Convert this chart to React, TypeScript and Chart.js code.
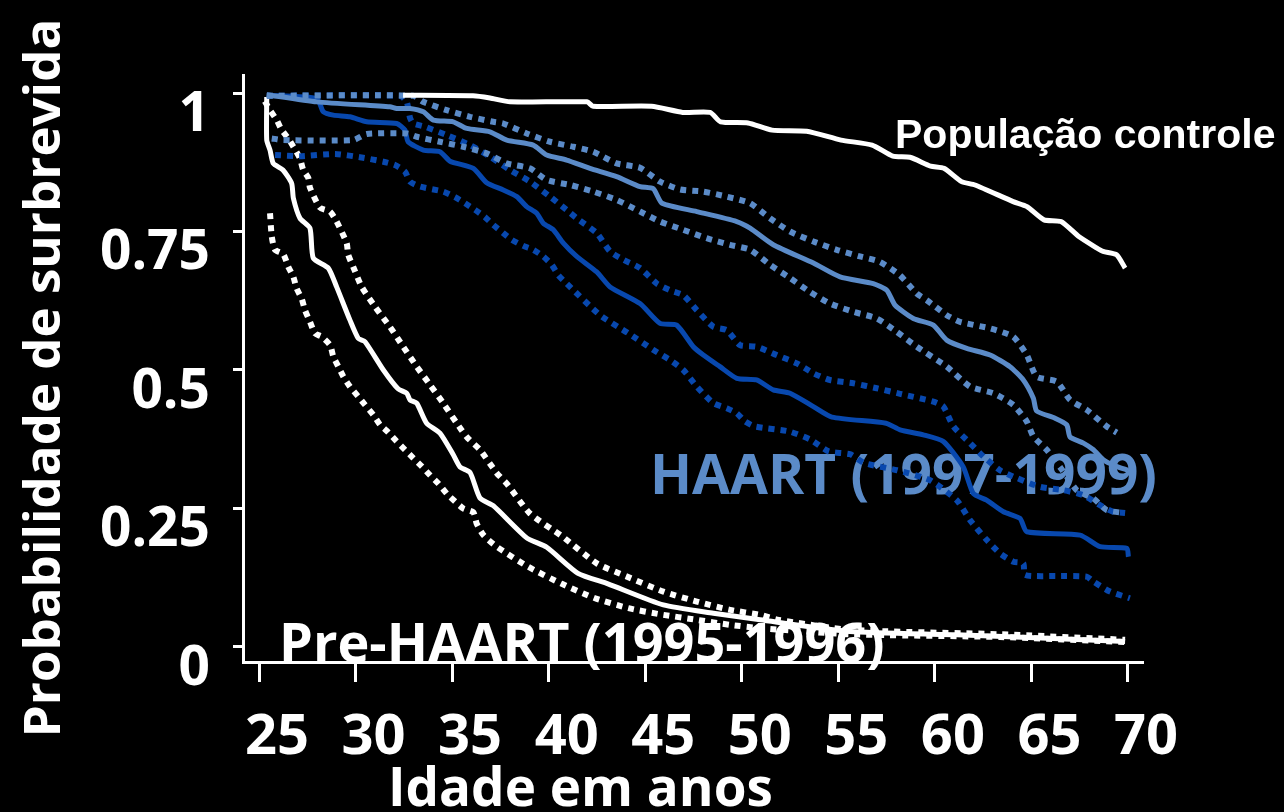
import React, { useEffect, useRef } from 'react';
import { Chart, registerables } from 'chart.js';

Chart.register(...registerables);

// ---- axis ticks ----
const xTickValues = [25, 30, 35, 40, 45, 50, 55, 60, 65, 70];
const yTickValues = [0, 0.25, 0.5, 0.75, 1];

// ---- text ----
const xAxisTitle = 'Idade em anos';
const yAxisTitle = 'Probabilidade de surbrevida';
const labelControl = 'População controle';
const labelHaart = 'HAART (1997-1999)';
const labelPreHaart = 'Pre-HAART (1995-1996)';

// ---- População controle ----
const controlAge = [32.46, 36.08, 36.96, 38.0, 41.99, 42.3, 45.33, 46.94, 48.36, 48.9, 50.32, 51.57, 53.36, 55.14, 56.75, 57.82, 58.71, 59.78, 60.47, 61.38, 62.08, 64.05, 64.77, 65.65, 66.53, 67.45, 68.35, 68.71, 69.41, 69.85];
const controlSurv = [0.996, 0.995, 0.991, 0.984, 0.984, 0.976, 0.976, 0.965, 0.965, 0.948, 0.946, 0.933, 0.931, 0.915, 0.906, 0.886, 0.884, 0.868, 0.864, 0.84, 0.834, 0.804, 0.795, 0.771, 0.768, 0.741, 0.721, 0.714, 0.708, 0.684];

// ---- HAART (light blue) ----
const haartAge = [25.4, 27.99, 31.78, 32.13, 32.82, 33.51, 34.03, 35.06, 35.76, 36.96, 37.83, 39.2, 39.9, 40.93, 42.14, 43.52, 44.73, 45.42, 45.87, 47.67, 49.74, 50.43, 51.63, 53.71, 55.09, 56.81, 57.51, 57.94, 58.88, 59.92, 60.61, 61.65, 62.86, 63.89, 64.58, 65.1, 65.27, 66.22, 66.83, 67.0, 67.69, 68.21, 68.72, 69.33, 70.0];
const haartSurv = [0.997, 0.984, 0.975, 0.972, 0.972, 0.966, 0.951, 0.948, 0.936, 0.93, 0.915, 0.906, 0.888, 0.879, 0.864, 0.849, 0.831, 0.827, 0.801, 0.786, 0.768, 0.756, 0.726, 0.693, 0.668, 0.656, 0.644, 0.617, 0.593, 0.581, 0.554, 0.539, 0.527, 0.506, 0.482, 0.449, 0.426, 0.413, 0.401, 0.379, 0.368, 0.356, 0.338, 0.327, 0.319];
const haartUpperAge = [25.4, 32.98, 33.51, 34.72, 35.93, 37.13, 37.65, 38.86, 40.07, 41.28, 42.31, 43.52, 44.73, 45.77, 46.8, 48.0, 49.22, 50.43, 51.46, 52.5, 53.71, 54.92, 56.12, 57.16, 58.19, 59.06, 59.58, 60.61, 61.3, 62.86, 64.06, 64.76, 65.27, 66.31, 67.0, 67.86, 68.9, 69.42];
const haartUpperSurv = [0.995, 0.995, 0.984, 0.969, 0.957, 0.948, 0.945, 0.927, 0.912, 0.903, 0.894, 0.873, 0.865, 0.84, 0.826, 0.822, 0.813, 0.801, 0.774, 0.75, 0.732, 0.717, 0.705, 0.695, 0.671, 0.638, 0.626, 0.599, 0.587, 0.575, 0.56, 0.527, 0.488, 0.479, 0.446, 0.428, 0.398, 0.387];
const haartLowerAge = [25.66, 26.24, 29.87, 30.58, 32.65, 33.17, 34.37, 35.58, 36.79, 37.83, 39.03, 39.9, 41.11, 42.31, 43.52, 44.73, 45.77, 46.97, 48.18, 49.39, 50.43, 51.46, 52.5, 53.53, 54.57, 55.78, 56.99, 58.02, 59.06, 60.61, 61.82, 63.03, 64.06, 64.76, 65.1, 65.79, 66.6, 67.35, 68.21, 68.9, 69.76];
const haartLowerSurv = [0.918, 0.915, 0.915, 0.926, 0.927, 0.921, 0.912, 0.903, 0.891, 0.873, 0.864, 0.843, 0.834, 0.822, 0.807, 0.786, 0.768, 0.753, 0.738, 0.726, 0.717, 0.69, 0.666, 0.641, 0.62, 0.605, 0.593, 0.569, 0.542, 0.506, 0.47, 0.458, 0.437, 0.407, 0.38, 0.356, 0.319, 0.283, 0.268, 0.247, 0.242];

// ---- dark blue group ----
const darkAge = [25.41, 27.99, 28.33, 28.85, 29.71, 30.58, 32.13, 32.56, 32.72, 33.51, 34.37, 34.89, 36.1, 36.79, 37.65, 38.35, 38.86, 39.38, 39.72, 40.24, 40.76, 41.45, 42.49, 43.18, 44.73, 45.77, 46.63, 47.49, 48.01, 48.87, 49.74, 50.77, 51.63, 52.5, 53.71, 54.67, 57.47, 58.2, 59.4, 60.44, 61.47, 61.99, 62.68, 63.55, 64.41, 64.76, 67.52, 68.55, 69.94, 70.02];
const darkSurv = [0.996, 0.99, 0.966, 0.96, 0.957, 0.948, 0.945, 0.933, 0.912, 0.897, 0.894, 0.877, 0.864, 0.838, 0.825, 0.813, 0.795, 0.783, 0.765, 0.753, 0.729, 0.705, 0.677, 0.65, 0.62, 0.584, 0.581, 0.542, 0.527, 0.506, 0.485, 0.482, 0.464, 0.458, 0.434, 0.415, 0.404, 0.392, 0.383, 0.371, 0.325, 0.277, 0.265, 0.244, 0.232, 0.208, 0.202, 0.181, 0.178, 0.163];
const darkUpperAge = [25.41, 32.3, 32.65, 32.82, 32.99, 33.6, 34.72, 35.93, 36.96, 38.0, 39.03, 40.07, 40.93, 41.45, 42.49, 43.18, 43.87, 44.73, 45.6, 46.28, 46.97, 47.67, 48.53, 49.22, 49.91, 50.77, 51.81, 52.85, 53.71, 54.57, 55.78, 56.99, 58.2, 59.92, 60.44, 60.96, 61.82, 62.51, 63.37, 64.24, 65.45, 66.65, 67.69, 68.55, 69.24, 69.85];
const darkUpperSurv = [0.995, 0.995, 0.984, 0.955, 0.945, 0.939, 0.924, 0.906, 0.885, 0.861, 0.84, 0.813, 0.789, 0.774, 0.747, 0.714, 0.699, 0.684, 0.656, 0.644, 0.635, 0.608, 0.578, 0.572, 0.545, 0.542, 0.527, 0.512, 0.494, 0.482, 0.476, 0.467, 0.457, 0.443, 0.434, 0.398, 0.368, 0.344, 0.319, 0.305, 0.289, 0.283, 0.274, 0.256, 0.244, 0.242];
const darkLowerAge = [25.83, 27.12, 28.94, 30.23, 31.44, 32.04, 32.56, 32.82, 33.34, 34.54, 35.15, 35.67, 36.19, 36.7, 37.13, 37.65, 38.09, 38.69, 39.2, 39.72, 40.16, 40.5, 40.93, 42.66, 44.14, 45.43, 46.28, 46.97, 47.67, 48.53, 49.22, 49.74, 50.17, 50.69, 52.46, 53.57, 54.5, 55.6, 56.35, 58.04, 59.75, 61.13, 61.82, 62.69, 63.37, 64.06, 64.58, 64.67, 66.31, 67.86, 68.21, 69.07, 70.1];
const darkLowerSurv = [0.888, 0.886, 0.89, 0.884, 0.876, 0.87, 0.858, 0.84, 0.831, 0.822, 0.812, 0.801, 0.789, 0.776, 0.762, 0.747, 0.735, 0.724, 0.717, 0.705, 0.69, 0.671, 0.656, 0.599, 0.566, 0.536, 0.518, 0.5, 0.47, 0.44, 0.431, 0.422, 0.407, 0.398, 0.389, 0.374, 0.353, 0.348, 0.332, 0.319, 0.301, 0.265, 0.229, 0.193, 0.169, 0.154, 0.151, 0.13, 0.128, 0.127, 0.118, 0.1, 0.088];

// ---- Pre-HAART (white) ----
const preAge = [25.4, 25.4, 25.57, 25.74, 26.24, 26.69, 26.78, 27.12, 27.64, 27.81, 28.59, 29.02, 29.71, 30.14, 30.49, 31.44, 32.2, 32.65, 32.82, 33.17, 33.68, 34.37, 35.06, 35.41, 35.93, 36.44, 37.13, 38.86, 39.9, 41.52, 43.07, 45.94, 48.53, 50.95, 55.6, 61.15, 69.85];
const preSurv = [0.993, 0.915, 0.897, 0.873, 0.861, 0.837, 0.81, 0.774, 0.756, 0.702, 0.684, 0.65, 0.59, 0.557, 0.551, 0.5, 0.466, 0.458, 0.446, 0.44, 0.404, 0.386, 0.347, 0.325, 0.315, 0.269, 0.255, 0.197, 0.18, 0.133, 0.114, 0.076, 0.061, 0.049, 0.028, 0.022, 0.01];
const preUpperAge = [25.3, 25.57, 25.92, 26.18, 26.52, 26.78, 27.12, 27.29, 27.55, 27.64, 28.16, 28.68, 29.02, 29.54, 29.62, 29.88, 30.32, 31.01, 31.78, 32.47, 33.17, 33.86, 34.54, 35.24, 35.76, 36.44, 37.31, 37.83, 39.03, 40.69, 42.49, 44.06, 45.94, 47.67, 49.39, 50.95, 51.91, 55.6, 63.37, 69.85];
const preUpperSurv = [0.985, 0.969, 0.951, 0.933, 0.918, 0.903, 0.882, 0.861, 0.847, 0.829, 0.793, 0.786, 0.768, 0.729, 0.708, 0.686, 0.65, 0.614, 0.578, 0.542, 0.506, 0.473, 0.44, 0.404, 0.379, 0.356, 0.314, 0.295, 0.241, 0.2, 0.151, 0.127, 0.1, 0.082, 0.067, 0.058, 0.049, 0.031, 0.023, 0.013];
const preLowerAge = [25.57, 25.66, 25.83, 26.26, 26.52, 26.78, 26.95, 27.21, 27.38, 27.64, 27.9, 28.25, 28.68, 28.85, 29.11, 29.37, 29.71, 30.14, 30.49, 30.92, 31.27, 31.68, 32.13, 32.56, 32.99, 33.43, 33.86, 34.29, 34.72, 34.89, 35.58, 36.1, 36.27, 36.62, 37.31, 38.93, 40.68, 42.4, 44.13, 45.77, 47.67, 49.39, 50.95, 55.6, 63.37, 69.85];
const preLowerSurv = [0.783, 0.741, 0.717, 0.709, 0.686, 0.668, 0.647, 0.629, 0.608, 0.587, 0.566, 0.56, 0.545, 0.524, 0.506, 0.488, 0.47, 0.452, 0.437, 0.419, 0.401, 0.388, 0.371, 0.356, 0.341, 0.326, 0.31, 0.295, 0.277, 0.271, 0.25, 0.243, 0.223, 0.202, 0.181, 0.145, 0.114, 0.088, 0.07, 0.059, 0.049, 0.04, 0.034, 0.023, 0.018, 0.009];

const WHITE = '#ffffff';
const LIGHT_BLUE = '#5b8bc8';
const DARK_BLUE = '#0848ae';

const toPoints = (xs: number[], ys: number[]) => xs.map((x, i) => ({ x, y: ys[i] }));

const solid = (label: string, xs: number[], ys: number[], color: string) => ({
  label,
  data: toPoints(xs, ys),
  borderColor: color,
  borderWidth: 5,
  pointRadius: 0,
  tension: 0.2,
  borderJoinStyle: 'round' as const,
  borderCapStyle: 'butt' as const,
  fill: false,
});

const dotted = (label: string, xs: number[], ys: number[], color: string) => ({
  label,
  data: toPoints(xs, ys),
  borderColor: color,
  borderWidth: 6,
  borderDash: [6, 6],
  pointRadius: 0,
  tension: 0.2,
  borderCapStyle: 'butt' as const,
  fill: false,
});

const FONT_MAIN = "'Open Sans', 'Noto Sans', sans-serif";
const FONT_ARIAL = "'Liberation Sans', Arial, sans-serif";

const bgPlugin = {
  id: 'blackBackground',
  beforeDraw(chart: any) {
    const ctx = chart.ctx;
    ctx.save();
    ctx.fillStyle = '#000';
    ctx.fillRect(0, 0, chart.width, chart.height);
    ctx.restore();
  },
};

const textPlugin = {
  id: 'textLabels',
  beforeDatasetsDraw(chart: any) {
    const ctx = chart.ctx;
    ctx.save();
    ctx.textAlign = 'left';
    ctx.textBaseline = 'alphabetic';

    ctx.fillStyle = WHITE;
    ctx.font = `bold 41px ${FONT_ARIAL}`;
    ctx.fillText(labelControl, 895, 148);

    ctx.fillStyle = LIGHT_BLUE;
    ctx.font = `bold 55px ${FONT_MAIN}`;
    ctx.fillText(labelHaart, 650, 494);

    ctx.fillStyle = WHITE;
    ctx.font = `bold 54px ${FONT_MAIN}`;
    ctx.fillText(labelPreHaart, 279, 662);

    // axis titles
    ctx.font = `bold 53px ${FONT_MAIN}`;
    ctx.fillText(xAxisTitle, 388, 806);

    ctx.translate(60, 378);
    ctx.rotate(-Math.PI / 2);
    ctx.textAlign = 'center';
    ctx.font = `bold 51px ${FONT_MAIN}`;
    ctx.fillText(yAxisTitle, 0, 0);
    ctx.restore();
  },
};

export default function App() {
  const canvasRef = useRef<HTMLCanvasElement | null>(null);

  useEffect(() => {
    if (!canvasRef.current) return;
    const chart = new Chart(canvasRef.current, {
      type: 'line',
      data: {
        datasets: [
          solid('População controle', controlAge, controlSurv, WHITE),
          solid('HAART (1997-1999)', haartAge, haartSurv, LIGHT_BLUE),
          dotted('HAART IC superior', haartUpperAge, haartUpperSurv, LIGHT_BLUE),
          dotted('HAART IC inferior', haartLowerAge, haartLowerSurv, LIGHT_BLUE),
          solid('HAART (azul escuro)', darkAge, darkSurv, DARK_BLUE),
          dotted('Azul escuro IC superior', darkUpperAge, darkUpperSurv, DARK_BLUE),
          dotted('Azul escuro IC inferior', darkLowerAge, darkLowerSurv, DARK_BLUE),
          solid('Pre-HAART (1995-1996)', preAge, preSurv, WHITE),
          dotted('Pre-HAART IC superior', preUpperAge, preUpperSurv, WHITE),
          dotted('Pre-HAART IC inferior', preLowerAge, preLowerSurv, WHITE),
        ] as any,
      },
      options: {
        responsive: false,
        animation: false,
        layout: { padding: { top: 75, right: 141, left: 0, bottom: 0 } },
        plugins: {
          legend: { display: false },
          tooltip: { enabled: false },
        },
        scales: {
          x: {
            type: 'linear',
            min: 24.171,
            max: 70.777,
            afterBuildTicks: (s: any) => {
              s.ticks = xTickValues.map((v) => ({ value: v }));
            },
            afterFit: (s: any) => {
              s.height = 150;
            },
            border: { display: true, color: WHITE, width: 3 },
            grid: {
              display: true,
              drawOnChartArea: false,
              drawTicks: true,
              tickLength: 20,
              tickColor: WHITE,
              tickWidth: 3,
            },
            ticks: {
              color: WHITE,
              autoSkip: false,
              maxRotation: 0,
              minRotation: 0,
              padding: 22,
              labelOffset: 18,
              font: { family: FONT_MAIN, weight: 'bold', size: 56 },
              callback: (v: any) => String(v),
            },
          },
          y: {
            type: 'linear',
            min: -0.0271,
            max: 1.0325,
            afterBuildTicks: (s: any) => {
              s.ticks = yTickValues.map((v) => ({ value: v }));
            },
            afterFit: (s: any) => {
              s.width = 243;
            },
            border: { display: true, color: WHITE, width: 3 },
            grid: {
              display: true,
              drawOnChartArea: false,
              drawTicks: true,
              tickLength: 10,
              tickColor: WHITE,
              tickWidth: 3,
            },
            ticks: {
              color: WHITE,
              padding: 23,
              labelOffset: 22,
              font: { family: FONT_MAIN, weight: 'bold', size: 55 },
              callback: (v: any) => String(v),
            },
          },
        },
      } as any,
      plugins: [bgPlugin, textPlugin],
    });
    return () => chart.destroy();
  }, []);

  return (
    <div style={{ position: 'fixed', left: 0, top: 0, width: 1284, height: 812, background: '#000' }}>
      <canvas ref={canvasRef} width={1284} height={812} style={{ display: 'block', width: 1284, height: 812 }} />
    </div>
  );
}
